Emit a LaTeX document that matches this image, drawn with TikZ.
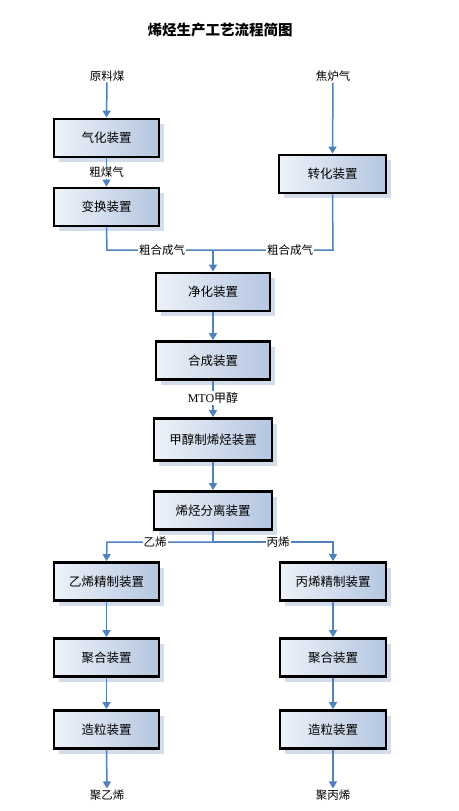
\documentclass[tikz,border=0pt]{standalone}
\usepackage{fontspec}
\newfontfamily\cjk{Noto Sans CJK SC}
\newfontfamily\lat{Liberation Serif}
\usetikzlibrary{arrows.meta,shadows}
\definecolor{lineblue}{HTML}{4F81BD}
\definecolor{boxl}{HTML}{EEF2F9}
\definecolor{boxr}{HTML}{B4C6E0}
\definecolor{shade}{HTML}{D3DCEB}
\tikzset{
  unit/.style={draw=black, line width=2.8pt, left color=boxl, right color=boxr,
    minimum width=#1, minimum height=38pt, inner sep=0pt,
    font=\cjk\fontsize{12.5}{14}\selectfont,
    drop shadow={shadow xshift=5pt, shadow yshift=-5pt, fill=shade, opacity=1}},
  unit/.default=105pt,
  flow/.style={draw=lineblue, line width=1.5pt, -{Triangle[length=7pt,width=8pt]}},
  wire/.style={draw=lineblue, line width=1.5pt},
  lbl/.style={font=\cjk\fontsize{11.5}{13}\selectfont, inner sep=1pt, fill=white},
  lblm/.style={font=\lat\fontsize{12}{13}\selectfont, inner sep=1pt, fill=white}
}
\begin{document}
\begin{tikzpicture}[x=1pt,y=-1pt]
\useasboundingbox (0,0) rectangle (458,811);
\node[font=\cjk\bfseries\fontsize{14.5}{16}\selectfont] (title) at (220,30) {烯烃生产工艺流程简图};

\node[lbl] (coal) at (107,76) {原料煤};
\node[lbl] (coke) at (333,76) {焦炉气};

\node[unit] (gasif) at (106.5,138) {气化装置};
\node[unit] (shift) at (106.5,207) {变换装置};
\node[unit=107pt] (reform) at (332.5,174) {转化装置};
\node[unit=114pt] (purif) at (213,292) {净化装置};
\node[unit=114pt] (synth) at (213,360.5) {合成装置};
\node[unit=118pt,minimum height=42pt] (mto) at (213,439.5) {甲醇制烯烃装置};
\node[unit=118pt] (sep) at (213,510.5) {烯烃分离装置};

\node[unit] (ethr) at (106.5,581.5) {乙烯精制装置};
\node[unit=106pt] (propr) at (333,581.5) {丙烯精制装置};
\node[unit] (polyl) at (106.5,657.5) {聚合装置};
\node[unit=106pt] (polyr) at (333,657.5) {聚合装置};
\node[unit] (granl) at (106.5,729.5) {造粒装置};
\node[unit=106pt] (granr) at (333,729.5) {造粒装置};

\node[lbl] (pe) at (107,795) {聚乙烯};
\node[lbl] (pp) at (333,795) {聚丙烯};

\coordinate (mergeL) at (107,250);
\coordinate (mergeR) at (333,250);
\coordinate (merge) at (213,250);
\coordinate (splitC) at (213,542);
\coordinate (splitL) at (107,542);
\coordinate (splitR) at (333,542);

% top inputs
\draw[flow] (coal.south) -- (gasif.north);
\draw[flow] (coke.south) -- (reform.north);
\draw[flow] (gasif.south) -- (shift.north) node[midway,lbl] (crude) {粗煤气};

% merge
\draw[wire] (shift.south) -- (mergeL) -- (merge);
\draw[wire] (reform.south) -- (mergeR) -- (merge);
\node[lbl] (synL) at (162,250) {粗合成气};
\node[lbl] (synR) at (290,250) {粗合成气};
\draw[flow] (merge) -- (purif.north);

\draw[flow] (purif.south) -- (synth.north);
\draw[flow] (synth.south) -- (mto.north);
\node[lblm] (meoh) at (213,398) {MTO\cjk 甲醇};
\draw[flow] (mto.south) -- (sep.north);

% split
\draw[wire] (sep.south) -- (splitC);
\draw[flow] (splitC) -- (splitL) -- (ethr.north);
\draw[flow] (splitC) -- (splitR) -- (propr.north);
\node[lbl] (eth) at (155,542) {乙烯};
\node[lbl] (prop) at (278,542) {丙烯};

\draw[flow] (ethr.south) -- (polyl.north);
\draw[flow] (polyl.south) -- (granl.north);
\draw[flow] (granl.south) -- (pe.north);
\draw[flow] (propr.south) -- (polyr.north);
\draw[flow] (polyr.south) -- (granr.north);
\draw[flow] (granr.south) -- (pp.north);
\end{tikzpicture}
\end{document}
